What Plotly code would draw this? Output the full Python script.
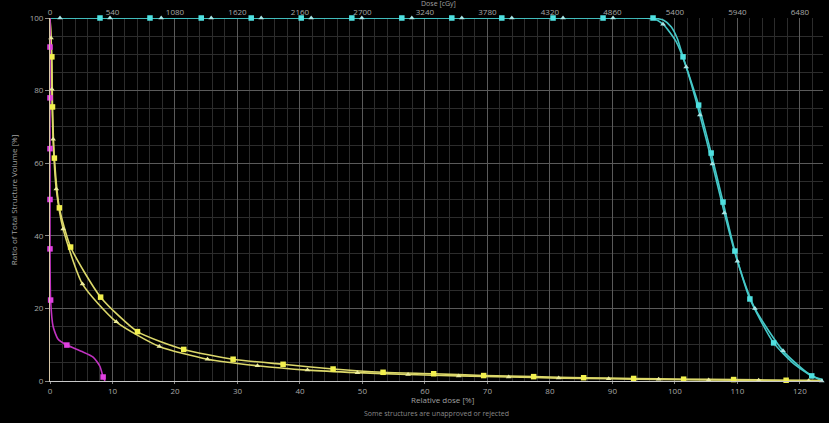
import plotly.graph_objects as go

# ---- data ----
x_max = 123.7
dose_per_pct = 54  # 5400 cGy = 100 %
dose_ticks = [0, 540, 1080, 1620, 2160, 2700, 3240, 3780, 4320, 4860, 5400, 5940, 6480]

# cyan (square) structure
cyan_sq_line_x = [0, 8, 16, 24, 32, 40, 48, 56, 64, 72, 80, 88, 96.4, 98.2, 99.4, 100.4, 101.3, 103.8, 105.8, 107.7, 109.6, 112, 115.8, 119, 121.9, 123.7]
cyan_sq_line_y = [100, 100, 100, 100, 100, 100, 100, 100, 100, 100, 100, 100, 100, 99.4, 97.6, 94.3, 89.3, 76, 62.8, 49.3, 35.8, 22.6, 10.5, 4.8, 1.4, 0.4]
cyan_sq_mx = [8, 16, 24.2, 32.2, 40.2, 48.3, 56.3, 64.3, 72.3, 80.5, 88.5, 96.5, 101.3, 103.8, 105.8, 107.7, 109.6, 112, 115.8, 121.9]
cyan_sq_my = [100, 100, 100, 100, 100, 100, 100, 100, 100, 100, 100, 100, 89.3, 76, 62.8, 49.3, 35.8, 22.6, 10.5, 1.4]

# cyan (triangle) structure
cyan_tr_line_x = [0, 1.6, 9.6, 17.8, 25.8, 33.8, 41.8, 49.9, 57.9, 65.9, 73.9, 82.1, 90.1, 96.6, 98.1, 100.2, 101.8, 104, 106, 107.9, 110, 112.8, 117.3, 121, 123.5]
cyan_tr_line_y = [100, 100, 100, 100, 100, 100, 100, 100, 100, 100, 100, 100, 100, 99.8, 98.3, 93.5, 86.5, 73.3, 59.8, 46.3, 33, 20, 8.3, 2.5, 0]
cyan_tr_mx = [1.6, 9.6, 17.8, 25.8, 33.8, 41.8, 49.9, 57.9, 65.9, 73.9, 82.1, 90.1, 98.1, 101.8, 104, 106, 107.9, 110, 112.8, 117.3, 123.5]
cyan_tr_my = [100, 100, 100, 100, 100, 100, 100, 100, 100, 100, 100, 100, 98.3, 86.5, 73.3, 59.8, 46.3, 33, 20, 8.3, 0]

# yellow (square) structure
yel_sq_x = [0, 0.3, 0.4, 0.7, 1.5, 3.3, 8.1, 14, 21.4, 29.3, 37.3, 45.3, 53.3, 61.4, 69.4, 77.4, 85.4, 93.4, 101.4, 109.4, 117.8, 123.7]
yel_sq_y = [100, 89.3, 75.5, 61.4, 47.7, 36.9, 23.1, 13.6, 8.7, 6.0, 4.6, 3.3, 2.4, 2.0, 1.5, 1.2, 0.9, 0.7, 0.5, 0.4, 0.2, 0.1]

# yellow (triangle) structure
yel_tr_x = [0, 0.16, 0.3, 0.5, 1.0, 2.1, 5.2, 10.6, 17.5, 25.2, 33.2, 41.2, 49.2, 57.3, 65.4, 73.4, 81.4, 89.4, 97.4, 105.4, 113.4, 121.4, 123.7]
yel_tr_y = [100, 94.5, 80.4, 66.6, 52.9, 41.9, 26.7, 16.3, 9.5, 6.0, 4.2, 3.0, 2.3, 1.8, 1.4, 1.1, 0.8, 0.6, 0.45, 0.3, 0.2, 0.1, 0.05]

# magenta structure
mag_line_x = [0, 0, 0, 0, 0, 0, 0.1, 0.5, 1.3, 2.7, 5.0, 6.9, 8.0, 8.5, 8.8]
mag_line_y = [100, 92, 78, 64, 50, 36.4, 22.3, 15, 11.5, 9.9, 8.2, 6.6, 4.0, 1.1, 0]
mag_mx = [0, 0, 0, 0, 0, 0.1, 2.7, 8.5]
mag_my = [92, 78, 64, 50, 36.4, 22.3, 9.9, 1.1]

CYAN = "#45c8c8"
CYAN_M = "#4fe0e0"
CYAN_T = "#a8e6e6"
YEL = "#dcd86a"
YEL_M = "#f2f04e"
YEL_T = "#ecec9c"
MAG = "#c032c0"
MAG_M = "#e040e0"

fig = go.Figure()

def add_curve(x, y, color, width=1.6):
    fig.add_trace(go.Scatter(x=x, y=y, mode="lines",
                             line=dict(color=color, width=width, shape="spline", smoothing=0.6),
                             hoverinfo="skip", showlegend=False))

def add_marks(x, y, color, symbol, size):
    fig.add_trace(go.Scatter(x=x, y=y, mode="markers", cliponaxis=False,
                             marker=dict(color=color, symbol=symbol, size=size,
                                         line=dict(width=0)),
                             showlegend=False))

add_curve(cyan_sq_line_x, cyan_sq_line_y, CYAN)
add_curve(cyan_tr_line_x, cyan_tr_line_y, CYAN)
add_curve(yel_sq_x, yel_sq_y, YEL)
add_curve(yel_tr_x, yel_tr_y, YEL)
add_curve(mag_line_x, mag_line_y, MAG)

add_marks(cyan_sq_mx, cyan_sq_my, CYAN_M, "square", 5.5)
add_marks(cyan_tr_mx, cyan_tr_my, CYAN_T, "triangle-up", 5)
add_marks(yel_sq_x[1:-1], yel_sq_y[1:-1], YEL_M, "square", 5.5)
add_marks(yel_tr_x[1:-1], yel_tr_y[1:-1], YEL_T, "triangle-up", 5)
add_marks(mag_mx, mag_my, MAG_M, "square", 5.5)

# invisible trace for top axis
fig.add_trace(go.Scatter(x=[0, x_max * dose_per_pct], y=[0, 0], xaxis="x2", mode="markers",
                         marker=dict(opacity=0), hoverinfo="skip", showlegend=False))

TICKFONT = dict(family="Open Sans, Liberation Sans, sans-serif", size=8, color="#a8a8a8")

fig.update_layout(
    width=829, height=423,
    margin=dict(l=50, r=6, t=18, b=42),
    paper_bgcolor="#000000", plot_bgcolor="#000000",
    showlegend=False,
    xaxis=dict(range=[0, x_max], tickvals=list(range(0, 121, 10)), tickfont=TICKFONT,
               showgrid=True, gridcolor="#5a5a5a", gridwidth=1,
               minor=dict(dtick=2, showgrid=True, gridcolor="#2c2c2c", gridwidth=1),
               showline=True, linecolor="#c8c8c8", linewidth=1,
               ticks="outside", ticklen=2, tickcolor="#888", zeroline=False),
    xaxis2=dict(range=[0, x_max * dose_per_pct], overlaying="x", side="top",
                tickvals=dose_ticks, tickfont=TICKFONT, showgrid=False,
                showline=False, ticks="", zeroline=False),
    yaxis=dict(range=[0, 100], tickvals=[0, 20, 40, 60, 80, 100], tickfont=TICKFONT,
               showgrid=True, gridcolor="#5a5a5a", gridwidth=1,
               minor=dict(dtick=5, showgrid=True, gridcolor="#2c2c2c", gridwidth=1),
               showline=True, linecolor="#d8c8a8", linewidth=1,
               ticks="outside", ticklen=4, tickcolor="#888", zeroline=False),
)

LABFONT = dict(family="Open Sans, Liberation Sans, sans-serif", size=8, color="#a0a0a0")
fig.add_annotation(text="Ratio of Total Structure Volume [%]", xref="paper", yref="paper",
                   x=-0.047, y=0.5, xanchor="center", yanchor="middle", textangle=-90,
                   showarrow=False, font=LABFONT)
fig.add_annotation(text="Relative dose [%]", xref="paper", yref="paper",
                   x=0.508, y=-0.052, xanchor="center", yanchor="middle",
                   showarrow=False, font=LABFONT)
fig.add_annotation(text="Dose [cGy]", xref="paper", yref="paper",
                   x=0.503, y=1.039, xanchor="center", yanchor="middle",
                   showarrow=False, font=dict(family="Open Sans, Liberation Sans, sans-serif",
                                              size=7, color="#a0a0a0"))
fig.add_annotation(text="Some structures are unapproved or rejected", xref="paper", yref="paper",
                   x=0.5, y=-0.09, xanchor="center", yanchor="middle", showarrow=False,
                   font=dict(family="Open Sans, Liberation Sans, sans-serif", size=7, color="#8a8a8a"))

fig.write_html("out.html", config={"displayModeBar": False},
               post_script="document.body.style.margin='0';document.body.style.background='#000';"
                           "document.documentElement.style.overflow='hidden';")
